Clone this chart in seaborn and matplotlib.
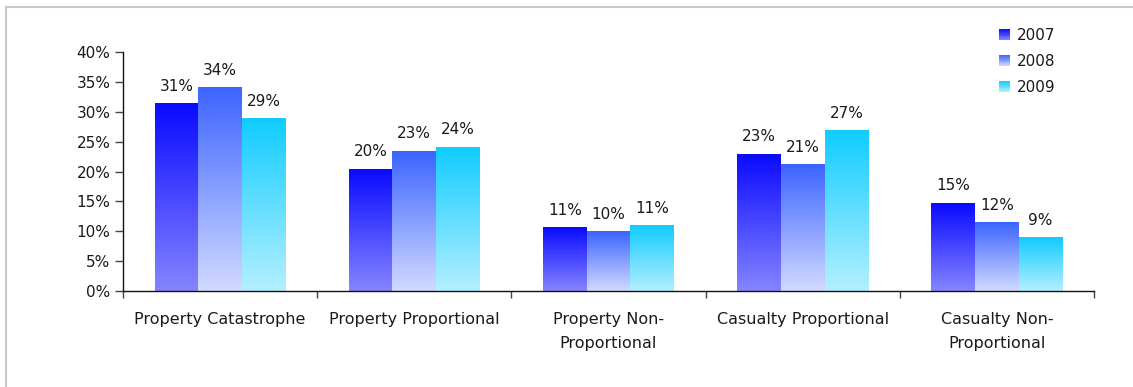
import numpy as np
import pandas as pd
import matplotlib
matplotlib.use("Agg")
import matplotlib.pyplot as plt
import seaborn as sns
from matplotlib.colors import LinearSegmentedColormap, to_rgb
from matplotlib.legend_handler import HandlerBase
from matplotlib.patches import Rectangle
from matplotlib.lines import Line2D
from matplotlib.ticker import PercentFormatter, MultipleLocator, FixedLocator

# ---- data -----------------------------------------------------------------
categories = [
    "Property Catastrophe",
    "Property Proportional",
    "Property Non-\nProportional",
    "Casualty Proportional",
    "Casualty Non-\nProportional",
]
years = ["2007", "2008", "2009"]
share_2007 = [31.4, 20.4, 10.6, 22.9, 14.7]
share_2008 = [34.1, 23.4, 10.0, 21.1, 11.5]
share_2009 = [28.9, 24.1, 10.9, 26.8, 9.0]

# ---- styling --------------------------------------------------------------
# (bottom colour, top colour) of the vertical fill for each year
gradient_colors = {
    "2007": ("#8585ff", "#0a0aff"),
    "2008": ("#d2daff", "#3c64ff"),
    "2009": ("#b4f0ff", "#10ccff"),
}
W, H = 1133, 387

df = pd.DataFrame({
    "category": categories * len(years),
    "year": np.repeat(years, len(categories)),
    "share": share_2007 + share_2008 + share_2009,
})
values_by_year = {"2007": share_2007, "2008": share_2008, "2009": share_2009}

sns.set_theme(style="white")
plt.rcParams["font.family"] = ["DejaVu Sans"]
plt.rcParams["text.color"] = "#1a1a1a"

fig = plt.figure(figsize=(W / 100, H / 100), dpi=100)
ax = fig.add_axes([123 / W, 1 - 291 / H, (1094 - 123) / W, (291 - 52) / H])

sns.barplot(
    data=df, x="category", y="share", hue="year",
    order=categories, hue_order=years, width=0.675,
    errorbar=None, saturation=1, legend=False, ax=ax,
)

ramp = np.linspace(0, 1, 256).reshape(-1, 1)
for year, container in zip(years, ax.containers):
    bottom_c, top_c = gradient_colors[year]
    cmap = LinearSegmentedColormap.from_list(f"g{year}", [bottom_c, top_c])
    for bar, value in zip(container, values_by_year[year]):
        x0 = bar.get_x()
        x1 = x0 + bar.get_width()
        h = bar.get_height()
        bar.set_facecolor("none")
        bar.set_edgecolor("none")
        ax.imshow(ramp, extent=[x0, x1, 0, h], origin="lower", aspect="auto",
                  cmap=cmap, zorder=2, interpolation="bilinear")
        ax.annotate(f"{value:.0f}%", ((x0 + x1) / 2, h), xytext=(0, 7),
                    textcoords="offset points", ha="center", va="bottom",
                    fontsize=11, color="#1a1a1a")

ax.set_xlim(-0.5, len(categories) - 0.5)
ax.set_ylim(0, 40)
ax.yaxis.set_major_locator(MultipleLocator(5))
ax.yaxis.set_major_formatter(PercentFormatter(decimals=0))
ax.set_xlabel("")
ax.set_ylabel("")

for side in ("top", "right"):
    ax.spines[side].set_visible(False)
for side in ("left", "bottom"):
    ax.spines[side].set_color("#111111")
    ax.spines[side].set_linewidth(1.0)
ax.spines["bottom"].set_zorder(3)

ax.xaxis.set_minor_locator(FixedLocator(np.arange(-0.5, len(categories), 1.0)))
ax.tick_params(axis="x", which="major", length=0, pad=15, labelsize=11.5,
               labelcolor="#1a1a1a")
ax.tick_params(axis="x", which="minor", bottom=True, length=5, width=1,
               color="#444444")
ax.tick_params(axis="y", which="major", left=True, length=6, width=1,
               color="#444444", labelsize=11, labelcolor="#1a1a1a", pad=3)
for lbl in ax.get_xticklabels():
    lbl.set_linespacing(1.8)


# legend with gradient swatches
class GradientSwatch(HandlerBase):
    def create_artists(self, legend, orig_handle, xdescent, ydescent,
                       width, height, fontsize, trans):
        bottom_c, top_c = (np.array(to_rgb(c)) for c in orig_handle.grad)
        n = 12
        artists = []
        for k in range(n):
            t = (k + 0.5) / n
            col = bottom_c * (1 - t) + top_c * t
            artists.append(Rectangle((-xdescent, -ydescent + height * k / n),
                                     width, height / n + 0.05, facecolor=col,
                                     edgecolor="none", transform=trans))
        return artists


handles = []
for year in years:
    r = Rectangle((0, 0), 1, 1)
    r.grad = gradient_colors[year]
    handles.append(r)

fig.legend(handles, years, handler_map={Rectangle: GradientSwatch()},
           loc="upper left", bbox_to_anchor=(999 / W, 1 - 28 / H),
           frameon=False, fontsize=11, handlelength=0.7, handleheight=0.7,
           handletextpad=0.5, labelspacing=0.72, borderpad=0, borderaxespad=0)

# light frame along the top and left edges
fig.add_artist(Line2D([6 / W, 1], [1 - 7 / H] * 2, transform=fig.transFigure,
                      color="#c8c8c8", lw=1.5))
fig.add_artist(Line2D([6 / W] * 2, [0, 1 - 7 / H], transform=fig.transFigure,
                      color="#c8c8c8", lw=1.5))

fig.savefig("out.png", dpi=100)
